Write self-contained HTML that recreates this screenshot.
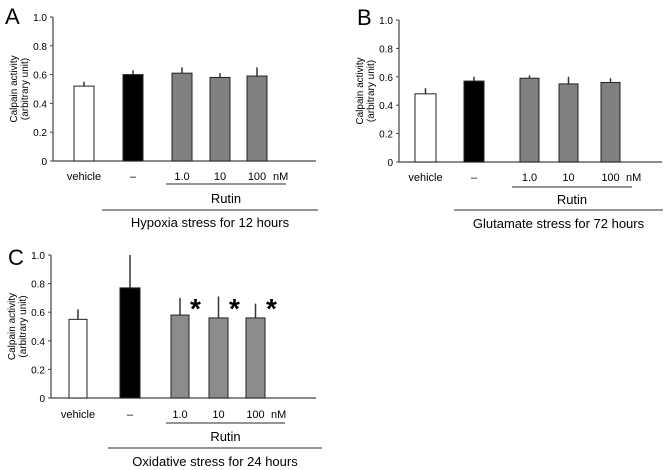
<!DOCTYPE html>
<html><head><style>body{margin:0;background:#fff}svg{display:block}</style></head>
<body>
<svg id="s" width="669" height="470" xmlns="http://www.w3.org/2000/svg" font-family="Liberation Sans, Arial, sans-serif"></svg>
<script>
const s=document.getElementById('s');let h='';
function panel(o){
 const {ax,top,zero,xend,bars,letter,lx,ly,labY,rl,rutinY,rutinTextY,sl,stY,stTextY,stText,stars}=o;
 const sc=(zero-top);
 const Y=v=>zero-v*sc;
 h+=`<text x="${lx}" y="${ly}" font-size="22">${letter}</text>`;
 h+=`<line x1="${ax}" y1="${top}" x2="${ax}" y2="${zero}" stroke="#444" stroke-width="1.2"/>`;
 h+=`<line x1="${ax}" y1="${zero}" x2="${xend}" y2="${zero}" stroke="#444" stroke-width="1.2"/>`;
 ['0','0.2','0.4','0.6','0.8','1.0'].forEach((t,i)=>{const y=Y(i*0.2);
  h+=`<line x1="${ax-3}" y1="${y}" x2="${ax}" y2="${y}" stroke="#444"/>`;
  h+=`<text x="${ax-6}" y="${y+4}" font-size="10" text-anchor="end">${t}</text>`;});
 const cy=(top+zero)/2;
 h+=`<text transform="translate(${ax-36},${cy}) rotate(-90)" font-size="10" text-anchor="middle">Calpain activity</text>`;
 h+=`<text transform="translate(${ax-25},${cy}) rotate(-90)" font-size="10" text-anchor="middle">(arbitrary unit)</text>`;
 const labs=['vehicle','\u2013','1.0','10','100'];
 bars.forEach((b,i)=>{const [x1,x2,v,e,f]=b;const m=(x1+x2)/2;
  h+=`<line x1="${m}" y1="${Y(e)}" x2="${m}" y2="${Y(v)}" stroke="#333" stroke-width="1.5"/>`;
  h+=`<rect x="${x1}" y="${Y(v)}" width="${x2-x1}" height="${zero-Y(v)}" fill="${f}" stroke="#222" stroke-width="1"/>`;
  h+=`<text x="${m}" y="${labY}" font-size="11" text-anchor="middle">${labs[i]}</text>`;
  if(stars&&i>=2)h+=`<text x="${x2+1}" y="${Y(0.70)+20}" font-size="28" font-weight="bold">*</text>`;});
 h+=`<text x="${bars[4][1]+6}" y="${labY}" font-size="11">nM</text>`;
 h+=`<line x1="${rl[0]}" y1="${rutinY}" x2="${rl[1]}" y2="${rutinY}" stroke="#555" stroke-width="1.2"/>`;
 h+=`<text x="${(rl[0]+rl[1])/2}" y="${rutinTextY}" font-size="13" text-anchor="middle">Rutin</text>`;
 h+=`<line x1="${sl[0]}" y1="${stY}" x2="${sl[1]}" y2="${stY}" stroke="#555" stroke-width="1.2"/>`;
 h+=`<text x="${(sl[0]+sl[1])/2}" y="${stTextY}" font-size="13" text-anchor="middle">${stText}</text>`;
}
const W='#fff',K='#000',G='#808080',G2='#8c8c8c';
panel({ax:53,top:17,zero:161,xend:316,letter:'A',lx:5,ly:24,labY:180,rl:[166,286],rutinY:184,rutinTextY:203,sl:[102,318],stY:210,stTextY:227,stText:'Hypoxia stress for 12 hours',
 bars:[[74,94,0.52,0.55,W],[123,143,0.60,0.63,K],[172,192,0.61,0.65,G],[210,230,0.58,0.61,G],[247,267,0.59,0.65,G]]});
panel({ax:399,top:20,zero:162,xend:662,letter:'B',lx:357,ly:25,labY:181,rl:[512,632],rutinY:187,rutinTextY:204,sl:[454,663],stY:210,stTextY:228,stText:'Glutamate stress for 72 hours',
 bars:[[415,436,0.48,0.52,W],[464,484,0.57,0.60,K],[520,539,0.59,0.61,G],[559,578,0.55,0.60,G],[601,620,0.56,0.59,G]]});
panel({ax:51,top:255,zero:398,xend:316,letter:'C',lx:8,ly:265,labY:418,rl:[166,285],rutinY:423,rutinTextY:441,sl:[108,322],stY:448,stTextY:466,stText:'Oxidative stress for 24 hours',stars:true,
 bars:[[69,87,0.55,0.62,W],[120,140,0.77,1.0,K],[171,189,0.58,0.70,G2],[209,228,0.56,0.71,G2],[246,265,0.56,0.66,G2]]});
s.innerHTML=h;
</script>
</body></html>
